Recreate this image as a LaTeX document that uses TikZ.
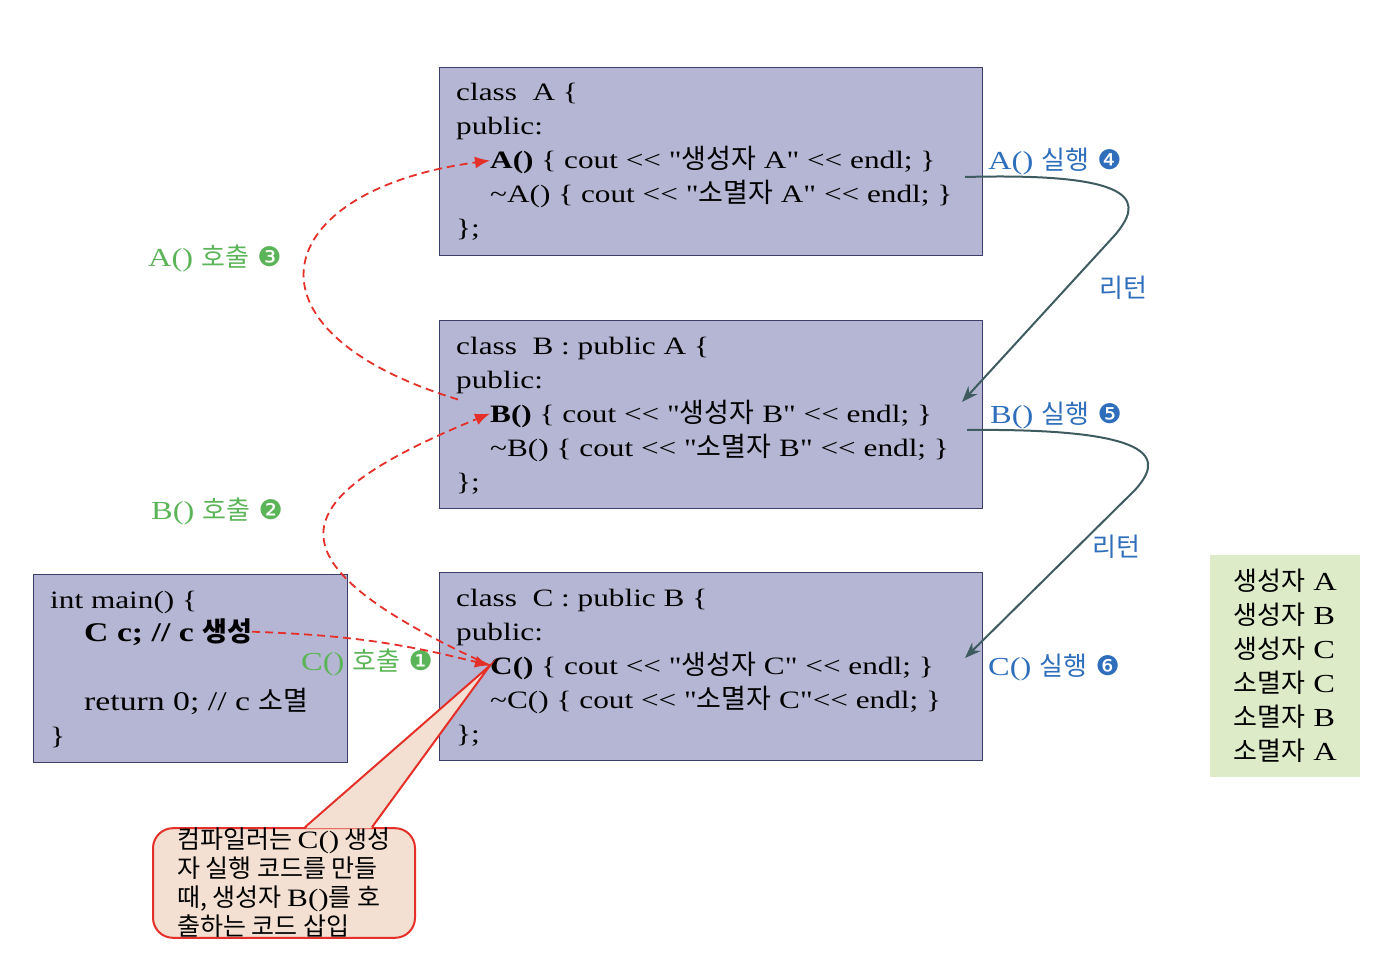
\documentclass[tikz,border=0pt]{standalone}
\usepackage{fontspec}
\setmainfont{Liberation Serif}
\newfontfamily\code{Liberation Serif}[FakeStretch=1.25]
\newfontfamily\kr{Noto Sans CJK KR}
\newfontfamily\dingfont{DejaVu Sans}
\usetikzlibrary{arrows.meta}

\definecolor{boxfill}{RGB}{181,182,211}
\definecolor{boxline}{RGB}{60,62,105}
\definecolor{callgreen}{RGB}{92,180,88}
\definecolor{runblue}{RGB}{46,110,186}
\definecolor{retslate}{RGB}{62,92,96}
\definecolor{callred}{RGB}{228,48,40}
\definecolor{notefill}{RGB}{243,224,210}
\definecolor{outfill}{RGB}{221,235,200}

\newcommand\ko[1]{{\kr #1}}
\newcommand\kc[1]{{\kr\fontsize{27}{34}\selectfont #1}}
\newcommand\dg[1]{{\dingfont\fontsize{27}{27}\selectfont #1}}
\newcommand\codesize{\fontsize{25}{34}\selectfont}

\tikzset{
  codebox/.style={draw=boxline, fill=boxfill, line width=1.4pt, anchor=north west,
    inner sep=0pt, minimum width=543pt, minimum height=188pt},
  codeline/.style={anchor=base west, inner sep=0pt, font=\code\codesize},
  mainline/.style={anchor=base west, inner sep=0pt, font=\code\fontsize{27}{34}\selectfont},
  calllabel/.style={anchor=base west, inner sep=0pt, text=callgreen, font=\code\fontsize{26}{26}\selectfont},
  runlabel/.style={anchor=base west, inner sep=0pt, text=runblue, font=\code\fontsize{26}{26}\selectfont},
  callarrow/.style={callred, dash pattern=on 8pt off 5pt, line width=1.8pt, -{Latex[length=15pt,width=12pt]}},
  retarrow/.style={retslate, line width=2pt, -{Stealth[length=16pt,width=12pt]}},
  notebox/.style={draw=callred, fill=notefill, line width=2pt, rounded corners=20pt,
    minimum width=262pt, minimum height=107pt, align=left, inner sep=0pt,
    font=\kr\fontsize{25}{29}\selectfont},
  outbox/.style={fill=outfill, anchor=north west, minimum width=150pt, minimum height=222pt,
    align=left, inner xsep=19pt, font=\code\fontsize{26}{34}\selectfont}
}

\begin{document}
\begin{tikzpicture}[x=1pt,y=-1pt]
\useasboundingbox (0,0) rectangle (1386,976);

% class A
\node[codebox] (boxA) at (439,67) {};
\node[codeline] (headA) at (456,101) {class\ \ A \{};
\node[codeline] (pubA) at (456,135) {public:};
\node[codeline] (ctorA) at (490,169) {\textbf{A()} \{ cout << "\kc{생성자} A" << endl; \}};
\node[codeline] (dtorA) at (490,203) {\textasciitilde A() \{ cout << "\kc{소멸자} A" << endl; \}};
\node[codeline] (endA) at (456,237) {\};};

% class B
\node[codebox] (boxB) at (439,320) {};
\node[codeline] (headB) at (456,354) {class\ \ B : public A \{};
\node[codeline] (pubB) at (456,388) {public:};
\node[codeline] (ctorB) at (490,422) {\textbf{B()} \{ cout << "\kc{생성자} B" << endl; \}};
\node[codeline] (dtorB) at (490,456) {\textasciitilde B() \{ cout << "\kc{소멸자} B" << endl; \}};
\node[codeline] (endB) at (456,490) {\};};

% class C
\node[codebox] (boxC) at (439,572) {};
\node[codeline] (headC) at (456,606) {class\ \ C : public B \{};
\node[codeline] (pubC) at (456,640) {public:};
\node[codeline] (ctorC) at (490,674) {\textbf{C()} \{ cout << "\kc{생성자} C" << endl; \}};
\node[codeline] (dtorC) at (490,708) {\textasciitilde C() \{ cout << "\kc{소멸자} C"<< endl; \}};
\node[codeline] (endC) at (456,742) {\};};

% main
\node[codebox, minimum width=314pt] (boxMain) at (33,574) {};
\node[codeline] (mainHead) at (50,608) {int main() \{};
\node[mainline, font=\code\fontsize{27}{34}\selectfont\bfseries] (makeC) at (84,641) {C c; // c \kc{\bfseries 생성}};
\node[mainline] (killC) at (84,710) {return 0; // c \kc{소멸}};
\node[codeline] (mainEnd) at (50,744) {\}};

% output
\node[outbox] (order) at (1210,555) {\ko{생성자} A\\\ko{생성자} B\\\ko{생성자} C\\
  \ko{소멸자} C\\\ko{소멸자} B\\\ko{소멸자} A};

% labels
\node[runlabel] (runA) at (988,170) {A() \ko{실행} \dg{❹}};
\node[runlabel] (runB) at (990,423) {B() \ko{실행} \dg{❺}};
\node[runlabel] (runC) at (988,675) {C() \ko{실행} \dg{❻}};
\node[runlabel] (retAB) at (1099,298) {\ko{리턴}};
\node[runlabel] (retBC) at (1092,556) {\ko{리턴}};
\node[calllabel] (callA) at (148,266) {A() \ko{호출} \dg{❸}};
\node[calllabel] (callB) at (151,519) {B() \ko{호출} \dg{❷}};
\node[calllabel] (callC) at (301,670) {C() \ko{호출} \dg{❶}};

% returns
\coordinate (fromA) at (965,177);
\coordinate (backB) at (962,402);
\coordinate (fromB) at (967,430);
\coordinate (backC) at (965,658);
\draw[retarrow] (fromA) .. controls (1150,172) and (1140,205) .. (1115,235) -- (backB);
\draw[retarrow] (fromB) .. controls (1170,428) and (1160,462) .. (1135,490) -- (backC);

% calls
\draw[callarrow] (makeC.east) to[bend left=6] (ctorC.west);
\draw[callarrow] (ctorC.west) .. controls (260,560) and (280,500) .. (ctorB.west);
\draw[callarrow] ([xshift=-32pt]ctorB.north west) .. controls (230,330) and (270,190) .. (ctorA.west);

% compiler note
\node[notebox] (note) at (284,883) {컴파일러는 {\code C()} 생성\\자 실행 코드를 만들\\
  때, 생성자 {\code B()}를 호\\출하는 코드 삽입};
\fill[notefill] ([xshift=22pt,yshift=-1.2pt]note.north) -- (ctorC.west) -- ([xshift=87pt,yshift=-1.2pt]note.north) -- cycle;
\draw[callred, line width=2pt] ([xshift=21pt]note.north) -- (ctorC.west) -- ([xshift=88pt]note.north);
\end{tikzpicture}
\end{document}
